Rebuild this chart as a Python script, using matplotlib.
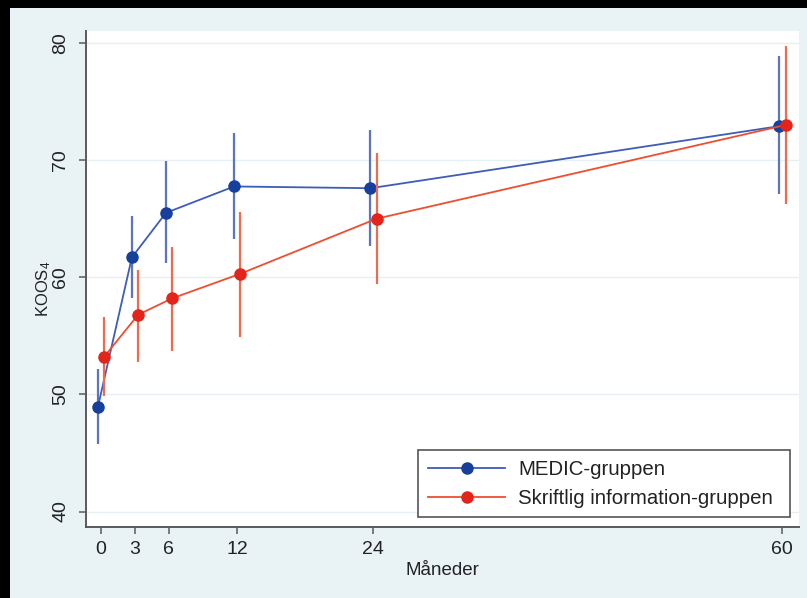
import matplotlib
matplotlib.use("Agg")
import matplotlib.pyplot as plt
from matplotlib.patches import Rectangle
import numpy as np

plt.rcParams['font.family'] = ['Liberation Sans', 'DejaVu Sans']
plt.rcParams['mathtext.fontset'] = 'custom'
plt.rcParams['mathtext.rm'] = 'Liberation Sans'
plt.rcParams['mathtext.default'] = 'regular'

# Data
months = [0, 3, 6, 12, 24, 60]
medic_mean = [48.9, 61.7, 65.5, 67.75, 67.6, 72.9]
medic_low = [45.8, 58.2, 61.2, 63.3, 62.7, 67.1]
medic_high = [52.2, 65.25, 69.9, 72.3, 72.6, 78.9]
skrift_mean = [53.2, 56.8, 58.2, 60.3, 65.0, 73.0]
skrift_low = [49.9, 52.8, 53.7, 54.9, 59.4, 66.25]
skrift_high = [56.6, 60.6, 62.6, 65.6, 70.6, 79.7]
labels = ['MEDIC-gruppen', 'Skriftlig information-gruppen']
yticks = [40, 50, 60, 70, 80]

W, H = 807, 598
fig = plt.figure(figsize=(W / 100, H / 100), dpi=100)
fig.patch.set_facecolor('#e9f3f5')
# black borders (top and left)
fig.patches.append(Rectangle((0, 1 - 8 / H), 1, 8 / H, transform=fig.transFigure,
                             facecolor='black', edgecolor='none', zorder=-1))
fig.patches.append(Rectangle((0, 0), 10 / W, 1, transform=fig.transFigure,
                             facecolor='black', edgecolor='none', zorder=-1))

ax_l, ax_r, ax_t, ax_b = 86, 799, 31, 527
aw, ah = ax_r - ax_l, ax_b - ax_t
ax = fig.add_axes([ax_l / W, 1 - ax_b / H, aw / W, ah / H])
ax.set_facecolor('white')

x = np.array(months, dtype=float)
off_b, off_r = -0.25, 0.3

blue_line = '#3d5db8'
blue_mk = '#173f9c'
blue_err = '#5c74c4'
red_line = '#ef4e2f'
red_mk = '#e3241b'
red_err = '#f06a4f'

mm = np.array(medic_mean)
sm = np.array(skrift_mean)
ax.errorbar(x + off_b, mm, yerr=[mm - np.array(medic_low), np.array(medic_high) - mm],
            fmt='none', ecolor=blue_err, elinewidth=1.6, capsize=0, zorder=2)
ax.plot(x + off_b, mm, '-', color=blue_line, lw=1.3, marker='o', ms=8,
        mfc=blue_mk, mec=blue_mk, label=labels[0], zorder=3)
ax.errorbar(x + off_r, sm, yerr=[sm - np.array(skrift_low), np.array(skrift_high) - sm],
            fmt='none', ecolor=red_err, elinewidth=1.6, capsize=0, zorder=4)
ax.plot(x + off_r, sm, '-', color=red_line, lw=1.3, marker='o', ms=8,
        mfc=red_mk, mec=red_mk, label=labels[1], zorder=5)

ax.set_xlim(-1.29, 61.47)
ax.set_ylim(38.68, 81.02)
ax.set_xticks(months)
ax.set_xticklabels([str(m) for m in months])
ax.set_yticks(yticks)
ax.set_yticklabels([str(v) for v in yticks], rotation=90, va='center')
for v in yticks:
    ax.axhline(v, color='#e6f0f4', lw=1.0, zorder=0)

for s in ['top', 'right']:
    ax.spines[s].set_visible(False)
for s in ['left', 'bottom']:
    ax.spines[s].set_color('#5a5a5a')
    ax.spines[s].set_linewidth(1.4)
ax.tick_params(axis='both', direction='out', length=5, width=1.1, color='#5a5a5a',
               labelsize=14, labelcolor='#222222')
ax.tick_params(axis='y', pad=7)
ax.tick_params(axis='x', pad=5)

ax.set_xlabel('Måneder', fontsize=13.5, color='#222222', labelpad=3)
ax.set_ylabel('KOOS$_4$', fontsize=12, color='#222222')
ax.yaxis.set_label_coords(-0.046, 0.48)

# legend frame (Stata-style box with roomy right padding)
lx0, lx1, ly0, ly1 = 418, 790, 450, 517
ax.add_patch(Rectangle(((lx0 - ax_l) / aw, (ax_b - ly1) / ah), (lx1 - lx0) / aw,
                       (ly1 - ly0) / ah, transform=ax.transAxes, facecolor='white',
                       edgecolor='#555555', lw=1.2, zorder=6))
leg = ax.legend(loc='upper left', bbox_to_anchor=((lx0 - ax_l) / aw, (ax_b - ly0) / ah),
                fontsize=14.7, frameon=False,
                handlelength=3.77, handletextpad=0.64, labelspacing=0.5,
                borderpad=0.5, borderaxespad=0)
leg.set_zorder(7)
for t in leg.get_texts():
    t.set_color('#222222')

fig.savefig('out.png', dpi=100, facecolor=fig.get_facecolor())
